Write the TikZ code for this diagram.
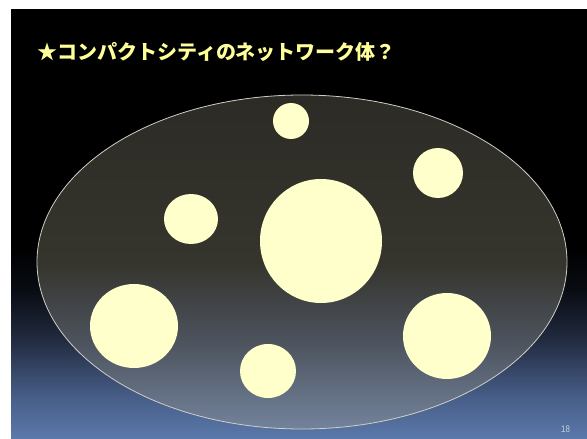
\documentclass[tikz,border=0pt]{standalone}
\usepackage{fontspec}
\newfontfamily\cjk{Noto Sans CJK JP}
\setsansfont{Liberation Sans}
\definecolor{bgbot}{HTML}{5B79AB}
\definecolor{bgb1}{HTML}{475D87}
\definecolor{bgb2}{HTML}{222B40}
\definecolor{bgb3}{HTML}{080B12}
\definecolor{elb0}{HTML}{73839C}
\definecolor{elb1}{HTML}{4E5560}
\definecolor{elb2}{HTML}{35342D}
\definecolor{elb3}{HTML}{2C2B25}
\definecolor{cityfill}{HTML}{FFFFCC}
\definecolor{titlecol}{HTML}{FFFF99}
\definecolor{numcol}{HTML}{C8D0E0}
\definecolor{rimcol}{HTML}{CFCFC6}
\pgfdeclareverticalshading{bgsh}{100bp}{color(0bp)=(bgbot); color(25bp)=(bgbot); color(30bp)=(bgb1); color(36.5bp)=(bgb2); color(42.5bp)=(bgb3); color(47.5bp)=(black); color(100bp)=(black)}
\pgfdeclareverticalshading{ellsh}{100bp}{color(0bp)=(elb0); color(25bp)=(elb0); color(37.5bp)=(elb1); color(50bp)=(elb2); color(75bp)=(elb3); color(100bp)=(elb3)}
\tikzset{
  city/.style={fill=cityfill, draw=none},
  titletext/.style={text=titlecol, font=\cjk\bfseries\fontsize{20}{24}\selectfont, inner sep=0pt, anchor=west},
  pagenum/.style={text=numcol, font=\sffamily\fontsize{9.5}{10}\selectfont, inner sep=0pt, xscale=0.82}
}
\begin{document}
\begin{tikzpicture}[x=1pt,y=-1pt]
\useasboundingbox (0,0) rectangle (587,439);
\fill[white] (0,0) rectangle (587,439);
\shade[shading=bgsh] (11,9) rectangle (587,439);
\shade[shading=ellsh] (302,262) ellipse [x radius=265pt, y radius=167pt];
\draw[rimcol, line width=0.8pt] (302,262) ellipse [x radius=265pt, y radius=167pt];
\fill[city] (291,121) circle [radius=18pt];
\fill[city] (438,173) circle [radius=25pt];
\fill[city] (191,219) ellipse [x radius=27pt, y radius=25pt];
\fill[city] (321,241) ellipse [x radius=61pt, y radius=62pt];
\fill[city] (134,326) ellipse [x radius=44pt, y radius=42pt];
\fill[city] (268,371) ellipse [x radius=28pt, y radius=27pt];
\fill[city] (447,336) ellipse [x radius=44pt, y radius=43pt];
\node[titletext] (title) at (37,52) {★コンパクトシティのネットワーク体？};
\node[pagenum] (num) at (565.5,429.5) {18};
\end{tikzpicture}
\end{document}
